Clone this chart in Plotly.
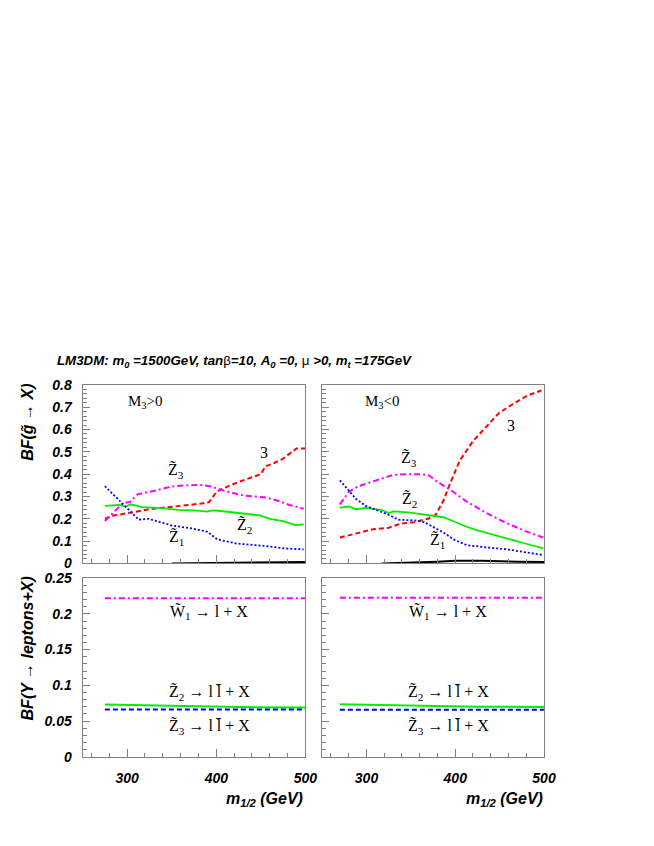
import plotly.graph_objects as go

W, H = 654, 846

# ---------------- data ----------------
# Top-left: M3 > 0, BF(gluino -> X)
pos_3_x = [275, 285, 300, 310, 325, 340, 355, 370, 385, 392, 400, 410, 425, 440, 450, 455, 465, 475, 485, 490, 500]
pos_3_y = [0.20, 0.215, 0.225, 0.232, 0.243, 0.25, 0.255, 0.262, 0.27, 0.275, 0.32, 0.34, 0.365, 0.385, 0.40, 0.435, 0.45, 0.47, 0.50, 0.515, 0.515]
pos_z3_x = [275, 290, 295, 303, 312, 330, 350, 365, 383, 394, 409, 430, 456, 470, 482, 498]
pos_z3_y = [0.19, 0.25, 0.27, 0.275, 0.31, 0.325, 0.345, 0.35, 0.352, 0.345, 0.325, 0.305, 0.295, 0.28, 0.262, 0.245]
pos_z2_x = [275, 291, 298, 304, 317, 339, 357, 379, 390, 396, 405, 431, 449, 460, 475, 489, 498]
pos_z2_y = [0.258, 0.262, 0.255, 0.265, 0.252, 0.248, 0.24, 0.237, 0.232, 0.238, 0.235, 0.225, 0.215, 0.20, 0.19, 0.172, 0.175]
pos_z1_x = [275, 291, 302, 313, 324, 339, 350, 372, 390, 401, 423, 453, 478, 498]
pos_z1_y = [0.346, 0.284, 0.237, 0.196, 0.20, 0.182, 0.17, 0.157, 0.142, 0.108, 0.089, 0.079, 0.067, 0.063]
pos_oth_x = [350, 400, 450, 500]
pos_oth_y = [0.0, 0.002, 0.004, 0.006]

# Top-right: M3 < 0
neg_3_x = [270, 288, 306, 325, 339, 354, 369, 378, 387, 394, 405, 420, 435, 449, 464, 482, 497]
neg_3_y = [0.116, 0.133, 0.152, 0.16, 0.179, 0.185, 0.20, 0.218, 0.284, 0.357, 0.46, 0.548, 0.614, 0.673, 0.712, 0.753, 0.775]
neg_z3_x = [270, 280, 290, 305, 320, 330, 345, 360, 370, 380, 398, 413, 435, 457, 479, 499]
neg_z3_y = [0.265, 0.32, 0.345, 0.365, 0.385, 0.397, 0.40, 0.40, 0.395, 0.365, 0.32, 0.277, 0.226, 0.182, 0.145, 0.116]
neg_z2_x = [270, 280, 288, 299, 317, 325, 330, 347, 361, 372, 378, 387, 398, 409, 424, 442, 464, 482, 499]
neg_z2_y = [0.25, 0.255, 0.243, 0.249, 0.24, 0.226, 0.233, 0.229, 0.221, 0.214, 0.211, 0.207, 0.189, 0.17, 0.149, 0.13, 0.108, 0.086, 0.067]
neg_z1_x = [270, 280, 288, 299, 310, 325, 336, 354, 365, 376, 387, 398, 413, 435, 457, 479, 499]
neg_z1_y = [0.372, 0.328, 0.29, 0.258, 0.24, 0.218, 0.196, 0.193, 0.185, 0.163, 0.138, 0.108, 0.082, 0.072, 0.064, 0.05, 0.038]
neg_oth_x = [317, 350, 380, 400, 430, 470, 500]
neg_oth_y = [0.0, 0.003, 0.008, 0.012, 0.012, 0.008, 0.006]

# Bottom-left: M3 > 0, BF(Y -> leptons + X)
blp_x = [275, 350, 390, 425, 500]
blp_w1 = [0.222, 0.222, 0.222, 0.222, 0.222]
blp_z2 = [0.073, 0.071, 0.0705, 0.0695, 0.069]
blp_z3 = [0.066, 0.066, 0.065, 0.066, 0.066]

# Bottom-right: M3 < 0
bln_x = [270, 350, 375, 425, 500]
bln_w1 = [0.2225, 0.2225, 0.2225, 0.2225, 0.2225]
bln_z2 = [0.0734, 0.0715, 0.071, 0.070, 0.0697]
bln_z3 = [0.0656, 0.0656, 0.065, 0.0656, 0.0656]

# ---------------- styling ----------------
RED, MAG, GRN, BLU, BLK = "#ff0000", "#ff00ff", "#00ee00", "#0000ff", "#000000"
DASH = "5px,3px"
DASHDOT = "6px,3px,2px,3px"
DOT = "2px,2px"

SANS = "Liberation Sans"
SERIF = "Liberation Serif"

def px_x(p):
    return p / W

def px_y(p):
    return 1 - p / H

L_DOM = [px_x(76), px_x(303)]
R_DOM = [px_x(320), px_x(546)]
T_DOM = [px_y(558), px_y(376)]
B_DOM = [px_y(755), px_y(573)]

fig = go.Figure()

def add(xs, ys, color, dash, width, xa, ya):
    fig.add_trace(go.Scatter(x=xs, y=ys, mode="lines",
                             line=dict(color=color, dash=dash, width=width),
                             xaxis=xa, yaxis=ya, showlegend=False, hoverinfo="skip"))

# top-left (x, y)
add(pos_oth_x, pos_oth_y, BLK, "solid", 2, "x", "y")
add(pos_3_x, pos_3_y, RED, DASH, 2, "x", "y")
add(pos_z3_x, pos_z3_y, MAG, DASHDOT, 2, "x", "y")
add(pos_z2_x, pos_z2_y, GRN, "solid", 1.8, "x", "y")
add(pos_z1_x, pos_z1_y, BLU, DOT, 1.8, "x", "y")
# top-right (x2, y2)
add(neg_oth_x, neg_oth_y, BLK, "solid", 2, "x2", "y2")
add(neg_3_x, neg_3_y, RED, DASH, 2, "x2", "y2")
add(neg_z3_x, neg_z3_y, MAG, DASHDOT, 2, "x2", "y2")
add(neg_z2_x, neg_z2_y, GRN, "solid", 1.8, "x2", "y2")
add(neg_z1_x, neg_z1_y, BLU, DOT, 1.8, "x2", "y2")
# bottom-left (x3, y3)
add(blp_x, blp_w1, MAG, DASHDOT, 2, "x3", "y3")
add(blp_x, blp_z2, GRN, "solid", 2, "x3", "y3")
add(blp_x, blp_z3, BLU, DASH, 2, "x3", "y3")
# bottom-right (x4, y4)
add(bln_x, bln_w1, MAG, DASHDOT, 2, "x4", "y4")
add(bln_x, bln_z2, GRN, "solid", 2, "x4", "y4")
add(bln_x, bln_z3, BLU, DASH, 2, "x4", "y4")

AXC = "#808080"
TICKF = dict(family=SANS, size=14, color="black", weight="bold", style="italic")

def xaxis(dom, anchor, labels):
    return dict(domain=dom, anchor=anchor, range=[250, 500], tick0=0, dtick=100,
                ticks="inside", ticklen=8, tickcolor=AXC, tickwidth=1,
                showticklabels=labels, tickfont=TICKF, ticklabelstandoff=8,
                minor=dict(dtick=20, tick0=0, ticks="inside", ticklen=4, tickcolor=AXC),
                showline=True, linecolor=AXC, linewidth=1, mirror=True,
                showgrid=False, zeroline=False)

def yaxis(dom, anchor, rng, dt, mdt, labels):
    return dict(domain=dom, anchor=anchor, range=rng, tick0=0, dtick=dt,
                ticks="inside", ticklen=7, tickcolor=AXC, tickwidth=1,
                showticklabels=labels, tickfont=TICKF, ticklabelstandoff=7,
                minor=dict(dtick=mdt, tick0=0, ticks="inside", ticklen=4, tickcolor=AXC),
                showline=True, linecolor=AXC, linewidth=1, mirror=True,
                showgrid=False, zeroline=False)

fig.update_layout(
    width=W, height=H, margin=dict(l=0, r=0, t=0, b=0),
    paper_bgcolor="white", plot_bgcolor="white",
    xaxis=xaxis(L_DOM, "y", False),
    yaxis=yaxis(T_DOM, "x", [0, 0.8], 0.1, 0.02, True),
    xaxis2=xaxis(R_DOM, "y2", False),
    yaxis2=yaxis(T_DOM, "x2", [0, 0.8], 0.1, 0.02, False),
    xaxis3=xaxis(L_DOM, "y3", True),
    yaxis3=yaxis(B_DOM, "x3", [0, 0.25], 0.05, 0.01, True),
    xaxis4=xaxis(R_DOM, "y4", True),
    yaxis4=yaxis(B_DOM, "x4", [0, 0.25], 0.05, 0.01, False),
)

ann = []

def paper_text(text, xp, yp, size, family=SANS, xanchor="center", yanchor="middle", angle=0):
    ann.append(dict(text=text, x=px_x(xp), y=px_y(yp), xref="paper", yref="paper",
                    xanchor=xanchor, yanchor=yanchor, showarrow=False, textangle=angle,
                    font=dict(family=family, size=size, color="black")))

def data_text(text, x, y, xr, yr, size=16):
    ann.append(dict(text=text, x=x, y=y, xref=xr, yref=yr, showarrow=False,
                    xanchor="center", yanchor="middle",
                    font=dict(family=SERIF, size=size, color="black")))

NB = "<span style='font-weight:normal;font-style:normal'>"
title = ("<b><i>LM3DM: m<sub>0</sub> =1500GeV, tan" + NB + "β</span>=10, A<sub>0</sub> =0, "
         + NB + "μ</span> >0, m<sub>t</sub> =175GeV</i></b>")
paper_text(title, 231, 352, 13.3)

paper_text("<b><i>BF(g\u0303 → X)</i></b>", 20, 414, 16, angle=-90)
paper_text("<b><i>BF(Y → leptons+X)</i></b>", 20, 645, 16, angle=-90)
paper_text("<b><i>m<sub>1/2</sub> (GeV)</i></b>", 303, 799, 16, xanchor="right")
paper_text("<b><i>m<sub>1/2</sub> (GeV)</i></b>", 547, 799, 16, xanchor="right")

Z = "Z\u0303"
Wt = "W\u0303"
# top-left labels
data_text("M<sub>3</sub>>0", 321, 0.725, "x", "y", 15)
data_text(Z + "<sub>3</sub>", 355, 0.415, "x", "y")
data_text("3", 454, 0.497, "x", "y")
data_text(Z + "<sub>2</sub>", 432, 0.167, "x", "y")
data_text(Z + "<sub>1</sub>", 355, 0.112, "x", "y")
# top-right labels
data_text("M<sub>3</sub><0", 318, 0.725, "x2", "y2", 15)
data_text(Z + "<sub>3</sub>", 348, 0.467, "x2", "y2")
data_text("3", 463, 0.62, "x2", "y2")
data_text(Z + "<sub>2</sub>", 348, 0.284, "x2", "y2")
data_text(Z + "<sub>1</sub>", 380, 0.10, "x2", "y2")
# bottom labels
for xr, yr in (("x3", "y3"), ("x4", "y4")):
    data_text(Wt + "<sub>1</sub> → l + X", 392, 0.202, xr, yr)
    data_text(Z + "<sub>2</sub> → l l\u0304 + X", 392, 0.0895, xr, yr)
    data_text(Z + "<sub>3</sub> → l l\u0304 + X", 392, 0.041, xr, yr)

fig.update_layout(annotations=ann)
fig.write_html("out.html")
